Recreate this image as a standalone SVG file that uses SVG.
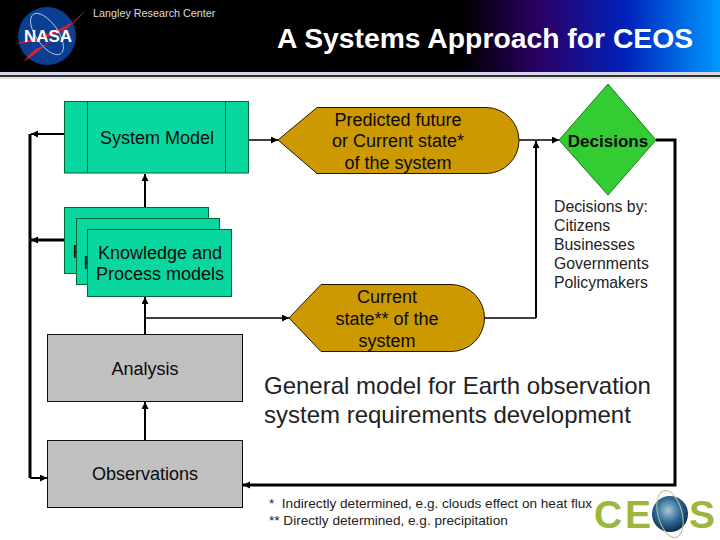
<svg xmlns="http://www.w3.org/2000/svg" width="720" height="540" viewBox="0 0 720 540">
<style>
text{font-family:"Liberation Sans",Arial,sans-serif;fill:#000}
.n{font-size:18px;text-anchor:middle;fill:#0a0a0a}
.t{fill:#08d8a0;stroke:#063;stroke-width:1}
.g{fill:#c0c0c0;stroke:#111;stroke-width:1}
.o{fill:#cc9900;stroke:#221500;stroke-width:1}
.c{fill:none;stroke:#000;stroke-width:2}
.f{fill:none;stroke:#000;stroke-width:1.500}
.h{fill:none;stroke:#000;stroke-width:3}
.s{font-size:13.600px;fill:#222}
.b{font-size:15.800px;fill:#222}
.l{font-size:39px;font-weight:bold;fill:#9cb83c}
</style>
<defs>
<linearGradient id="hd" x1="0" x2="1" y1="0" y2="0">
<stop offset="0" stop-color="#000"/><stop offset=".64" stop-color="#000"/><stop offset=".75" stop-color="#2b0066"/><stop offset=".87" stop-color="#0022bb"/><stop offset="1" stop-color="#0099ff"/>
</linearGradient>
<radialGradient id="gl" cx=".45" cy=".4" r=".6"><stop offset="0" stop-color="#a9c8d8"/><stop offset=".55" stop-color="#2f6d9a"/><stop offset="1" stop-color="#0d2c55"/></radialGradient>
<marker id="a" markerWidth="8" markerHeight="8" refX="7" refY="3.500" orient="auto" markerUnits="userSpaceOnUse"><path d="M0 0L7 3.500L0 7Z" fill="#000"/></marker>
</defs>
<rect width="720" height="540" fill="#fff"/>
<g id="header">
<rect width="720" height="72" fill="url(#hd)"/>
<rect y="72" width="720" height="3" fill="#d4d8e6"/>
<rect y="75" width="720" height="2" fill="#333"/>
<rect y="77" width="720" height="2" fill="#e2e2e2"/>
<circle cx="47" cy="36" r="29" fill="#0b3d91"/>
<path d="M23 62C45 48 68 26 86 10C72 26 52 42 36 49C30 53 27 58 23 62ZM15 44C35 38 58 32 72 22C60 36 38 42 15 44Z" fill="#d8232a"/>
<ellipse cx="47" cy="34" rx="11" ry="24" transform="rotate(-35 47 34)" fill="none" stroke="#cfd8ea" stroke-width=".8"/>
<text x="48" y="42" text-anchor="middle" style="font-size:17px;font-weight:bold;fill:#fff">NASA</text>
<text x="93" y="17" style="font-size:10.800px;fill:#ddd">Langley Research Center</text>
<text x="485" y="47.500" text-anchor="middle" style="font-size:28.300px;font-weight:bold;fill:#fff">A Systems Approach for CEOS</text>
</g>
<g id="connectors">
<path class="h" d="M30 134V478"/>
<path class="c" d="M64 134H31" marker-end="url(#a)"/>
<path class="h" d="M64 240H31" marker-end="url(#a)"/>
<path class="c" d="M30 478H47" marker-end="url(#a)"/>
<path class="c" d="M145 207V174" marker-end="url(#a)"/>
<path class="c" d="M145 334V297" marker-end="url(#a)"/>
<path class="c" d="M145 440V402" marker-end="url(#a)"/>
<path class="f" d="M145 318H289" marker-end="url(#a)"/>
<path class="f" d="M249 140H278" marker-end="url(#a)"/>
<path class="f" d="M519 140H559" marker-end="url(#a)"/>
<path class="f" d="M484 318H536"/>
<path class="c" d="M536 318V141" marker-end="url(#a)"/>
<path class="h" d="M656 140H675V485H243" marker-end="url(#a)"/>
</g>
<g id="system-model">
<rect class="t" x="64.500" y="101.500" width="184" height="71.500"/>
<path class="t" d="M87.500 101.500V173M225.500 101.500V173"/>
<text class="n" x="157" y="144">System Model</text>
</g>
<g id="knowledge-models">
<rect class="t" x="64.500" y="207.500" width="144" height="66"/>
<text class="n" x="72.500" y="258" style="text-anchor:start">K</text>
<rect class="t" x="76.500" y="218.500" width="143" height="66"/>
<text class="n" x="83.500" y="269" style="text-anchor:start">K</text>
<rect class="t" x="87.500" y="229.500" width="144" height="67"/>
<text class="n" x="160" y="259">Knowledge and</text>
<text class="n" x="160" y="280">Process models</text>
</g>
<g id="analysis">
<rect class="g" x="47.500" y="334.500" width="195" height="67"/>
<text class="n" x="145" y="375">Analysis</text>
</g>
<g id="observations">
<rect class="g" x="47.500" y="440.500" width="195" height="67"/>
<text class="n" x="145" y="480">Observations</text>
</g>
<g id="predicted-state">
<path class="o" d="M278 140L317 107.500H486A33 33 0 0 1 486 173.500H317Z"/>
<text class="n" x="398" y="126">Predicted future</text>
<text class="n" x="398" y="147">or Current state*</text>
<text class="n" x="398" y="169">of the system</text>
</g>
<g id="decisions">
<path d="M608 84L656 140L608 195L559 140Z" fill="#33cc33" stroke="#1c7a1c"/>
<text class="n" x="608" y="147" style="font-size:17px;font-weight:bold">Decisions</text>
</g>
<g id="current-state">
<path class="o" d="M289 318L321 284.500H451A33 33 0 0 1 451 351.500H321Z"/>
<text class="n" x="387" y="303">Current</text>
<text class="n" x="387" y="325">state** of the</text>
<text class="n" x="387" y="347">system</text>
</g>
<g id="labels">
<text class="b" x="554" y="212">Decisions by:</text>
<text class="b" x="554" y="231">Citizens</text>
<text class="b" x="554" y="250">Businesses</text>
<text class="b" x="554" y="269">Governments</text>
<text class="b" x="554" y="288">Policymakers</text>
<text x="264" y="394" style="font-size:24px;fill:#222">General model for Earth observation</text>
<text x="264" y="423" style="font-size:24px;fill:#222">system requirements development</text>
<text class="s" x="269" y="508" xml:space="preserve">*  Indirectly determined, e.g. clouds effect on heat flux</text>
<text class="s" x="269" y="525">** Directly determined, e.g. precipitation</text>
</g>
<g id="ceos-logo">
<text class="l" x="594" y="528">C</text>
<text class="l" x="625" y="528">E</text>
<circle cx="670" cy="514" r="18" fill="url(#gl)"/>
<ellipse cx="670" cy="514" rx="12" ry="24" transform="rotate(-15 670 514)" fill="none" stroke="#b5c98a" stroke-width="1"/>
<text class="l" x="689" y="528">S</text>
</g>
</svg>
